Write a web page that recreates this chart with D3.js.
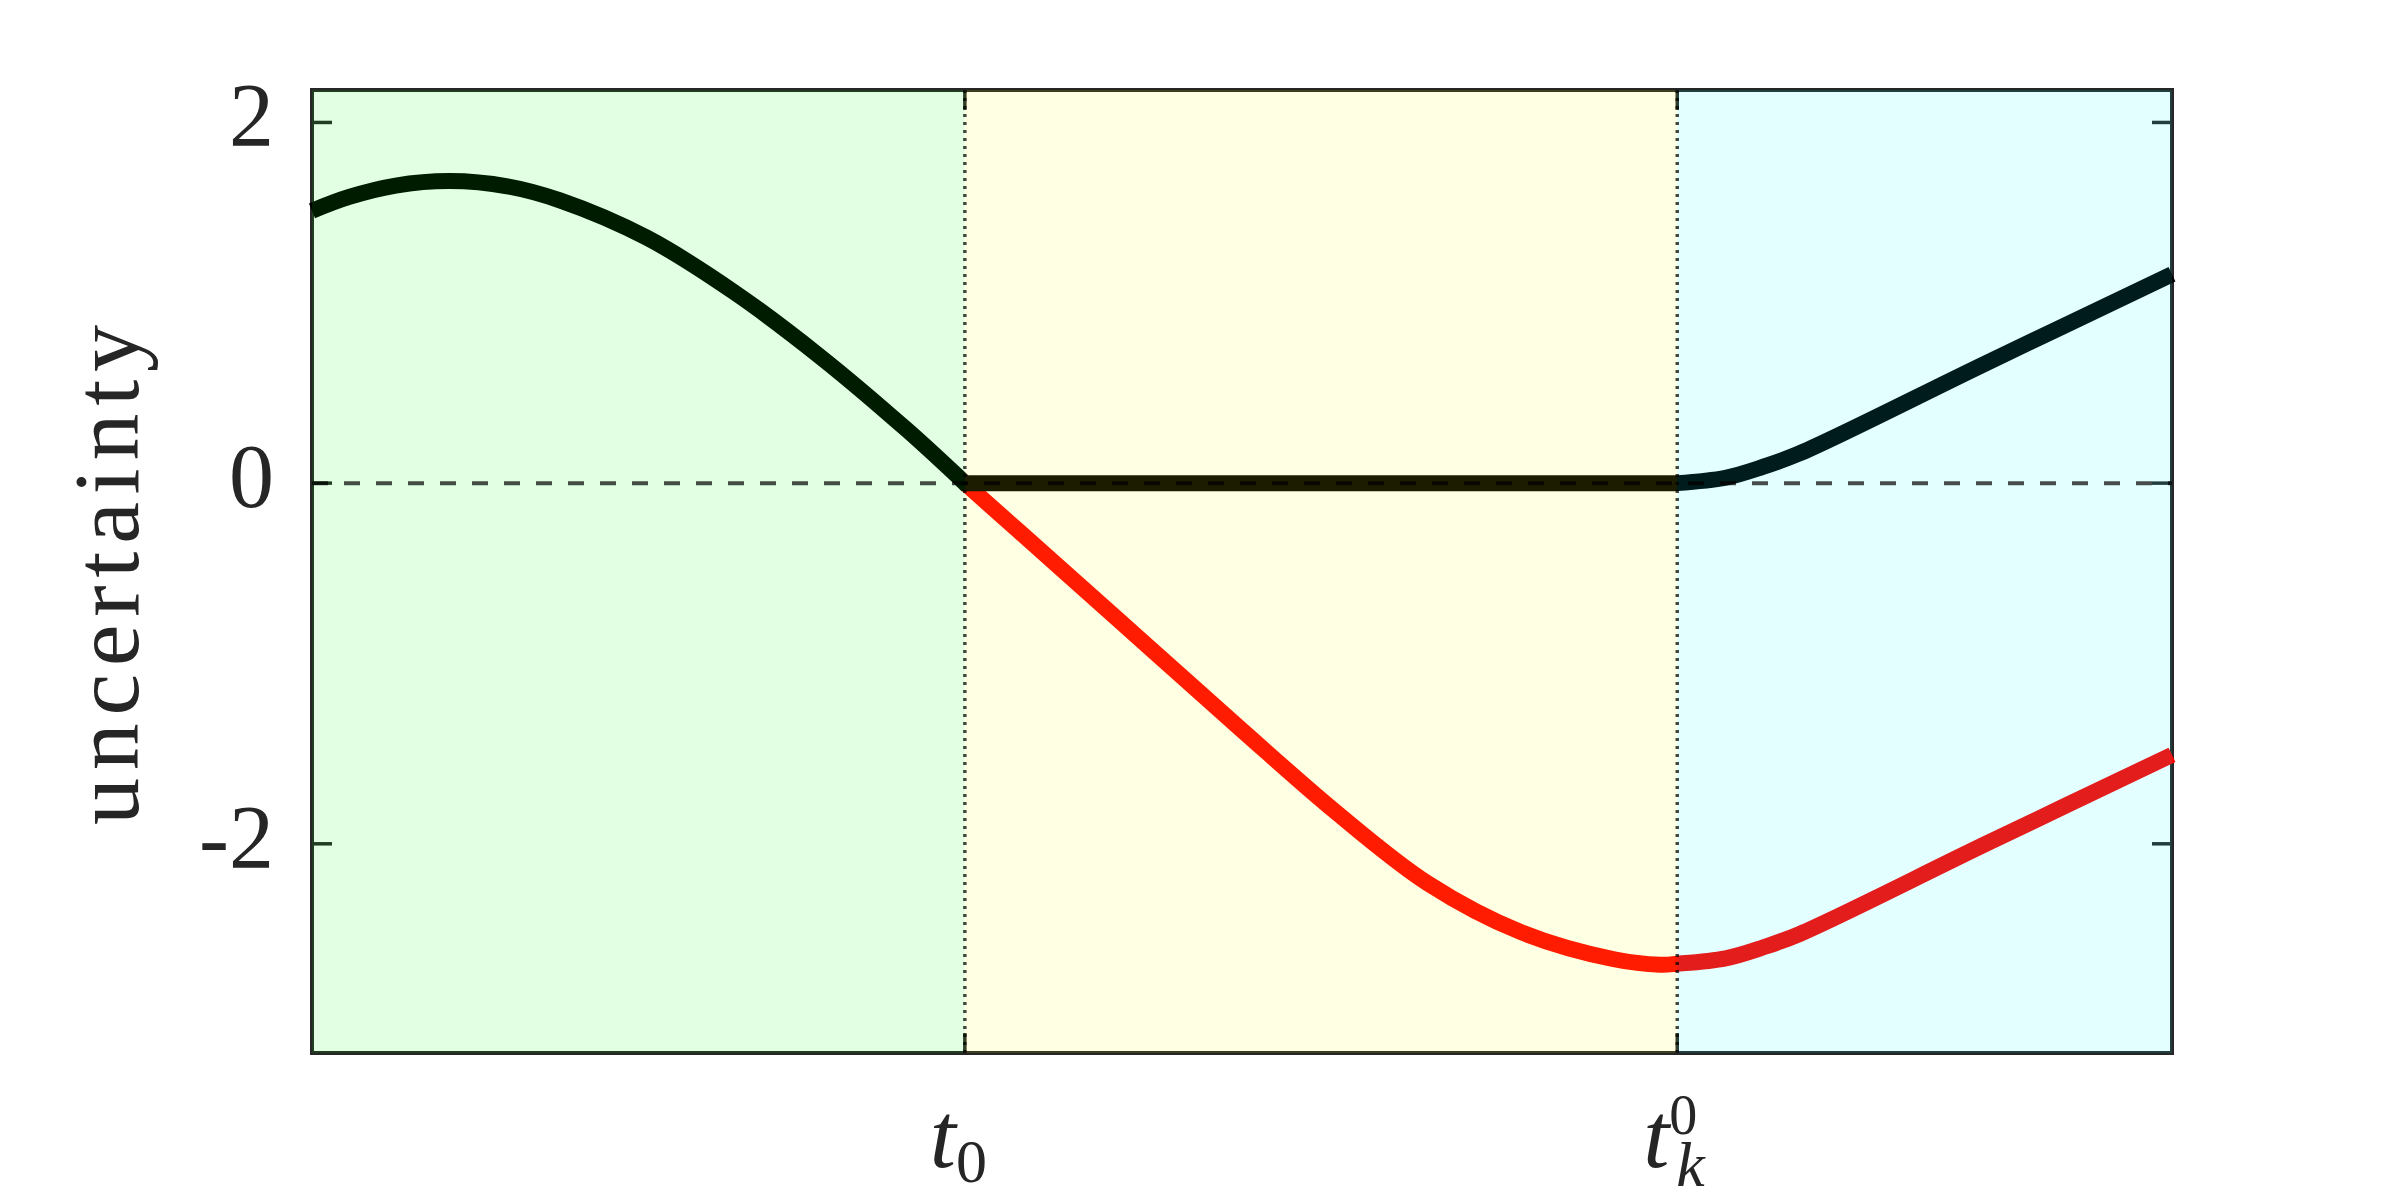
<!DOCTYPE html>
<html>
<head>
<meta charset="utf-8">
<script src="https://cdn.jsdelivr.net/npm/d3@7"></script>
<style>
  html, body { margin: 0; padding: 0; background: #fff; }
  svg { display: block; }
</style>
</head>
<body>
<svg id="chart" width="2400" height="1200"></svg>
<script>
// ---- data ----
const xDomain = [0, 10];
const yDomain = [-3.16, 2.18];
const t0 = 3.51;
const tk = 7.34;

const yTicks = [-2, 0, 2];
const yTickLabels = ["-2", "0", "2"];

// black curve, piece before t0
const blackAX = [0, 0.2, 0.45, 0.74, 1.05, 1.333, 1.80, 2.268, 2.734, 3.20, 3.51];
const blackAY = [1.51, 1.587, 1.65, 1.675, 1.646, 1.568, 1.361, 1.06, 0.70, 0.294, 0];
// black flat piece t0..tk
const blackBX = [3.51, 7.34];
const blackBY = [0, 0];
// black piece after tk
const blackCX = [7.34, 7.6, 7.8, 8.0, 9.0, 10];
const blackCY = [0, 0.03, 0.09, 0.166, 0.665, 1.158];

// red curve from t0
const redX = [3.51, 4.0, 4.5, 5.0, 5.5, 6.0, 6.5, 7.0, 7.25, 7.34, 7.6, 7.8, 8.0, 9.0, 10];
const redY = [0, -0.45, -0.91, -1.37, -1.82, -2.22, -2.49, -2.64, -2.67, -2.665, -2.635, -2.575, -2.499, -2.0, -1.507];

// regions
const regionStarts = [0, 3.51, 7.34];
const regionEnds = [3.51, 7.34, 10];
const regionColors = ["#00ff00", "#ffff00", "#00ffff"];

// ---- layout ----
const L = 312, R = 2172, T = 90, B = 1053;
const x = d3.scaleLinear().domain(xDomain).range([L, R]);
const y = d3.scaleLinear().domain(yDomain).range([B, T]);

const svg = d3.select("#chart");
const axisColor = "#262626";
const serif = "'Liberation Serif', 'DejaVu Serif', serif";

// frame + ticks (under patches)
const g0 = svg.append("g");
g0.append("rect").attr("x", L).attr("y", T).attr("width", R - L).attr("height", B - T)
  .attr("fill", "#fff").attr("stroke", axisColor).attr("stroke-width", 4);

const tickLen = 20;
yTicks.forEach(v => {
  g0.append("line").attr("x1", L).attr("x2", L + tickLen).attr("y1", y(v)).attr("y2", y(v))
    .attr("stroke", axisColor).attr("stroke-width", 3.5);
  g0.append("line").attr("x1", R - tickLen).attr("x2", R).attr("y1", y(v)).attr("y2", y(v))
    .attr("stroke", axisColor).attr("stroke-width", 3.5);
});
[t0, tk].forEach(v => {
  g0.append("line").attr("x1", x(v)).attr("x2", x(v)).attr("y1", B).attr("y2", B - tickLen)
    .attr("stroke", axisColor).attr("stroke-width", 3.5);
  g0.append("line").attr("x1", x(v)).attr("x2", x(v)).attr("y1", T).attr("y2", T + tickLen)
    .attr("stroke", axisColor).attr("stroke-width", 3.5);
});

// curves
const lineGen = d3.line().x(d => x(d[0])).y(d => y(d[1])).curve(d3.curveCatmullRom.alpha(0.5));
const zip = (a, b) => a.map((v, i) => [v, b[i]]);

svg.append("path").attr("d", lineGen(zip(redX, redY)))
  .attr("fill", "none").attr("stroke", "#ff0000").attr("stroke-width", 16)
  .attr("stroke-linecap", "butt").attr("stroke-linejoin", "miter");

const segs = [zip(blackAX, blackAY), zip(blackBX, blackBY), zip(blackCX, blackCY)];
let dBlack = "";
segs.forEach((s, i) => {
  let p = lineGen(s);
  if (i > 0) p = "L" + p.slice(1);
  dBlack += p;
});
svg.append("path").attr("d", dBlack)
  .attr("fill", "none").attr("stroke", "#000").attr("stroke-width", 16)
  .attr("stroke-linecap", "butt").attr("stroke-linejoin", "miter");

// translucent region patches on top
regionStarts.forEach((s, i) => {
  svg.append("rect")
    .attr("x", x(s)).attr("y", T)
    .attr("width", x(regionEnds[i]) - x(s)).attr("height", B - T)
    .attr("fill", regionColors[i]).attr("fill-opacity", 0.11);
});

// dashed zero line and dotted separators
svg.append("line").attr("x1", L).attr("x2", R).attr("y1", y(0)).attr("y2", y(0))
  .attr("stroke", "#000").attr("stroke-opacity", 0.7).attr("stroke-width", 4)
  .attr("stroke-dasharray", "16 16");
[t0, tk].forEach(v => {
  svg.append("line").attr("x1", x(v)).attr("x2", x(v)).attr("y1", T).attr("y2", B)
    .attr("stroke", "#000").attr("stroke-opacity", 0.72).attr("stroke-width", 3.5)
    .attr("stroke-dasharray", "3 5");
});

// y tick labels
yTicks.forEach((v, i) => {
  svg.append("text").attr("x", L - 38).attr("y", y(v) + 24)
    .attr("text-anchor", "end").attr("font-family", serif).attr("font-size", 90)
    .attr("fill", axisColor).text(yTickLabels[i]);
});

// x tick labels
// t_0
const lab0 = svg.append("text").attr("x", x(t0) - 35).attr("y", 1167)
  .attr("font-family", serif).attr("fill", axisColor);
lab0.append("tspan").attr("font-size", 94).attr("font-style", "italic").text("t");
lab0.append("tspan").attr("font-size", 62).attr("dy", 15).text("0");
// t_k^0
const labk = svg.append("text").attr("x", x(tk) - 34).attr("y", 1167)
  .attr("font-family", serif).attr("fill", axisColor);
labk.append("tspan").attr("font-size", 94).attr("font-style", "italic").text("t");
labk.append("tspan").attr("font-size", 56).attr("dy", -33).text("0");
labk.append("tspan").attr("font-size", 64).attr("font-style", "italic")
  .attr("x", x(tk) - 1).attr("dy", 52).text("k");

// y axis label
svg.append("text")
  .attr("transform", "translate(138,575) rotate(-90)")
  .attr("text-anchor", "middle").attr("font-family", serif).attr("font-size", 94)
  .attr("fill", axisColor).attr("textLength", 500).attr("lengthAdjust", "spacing")
  .text("uncertainty");
</script>
</body>
</html>
